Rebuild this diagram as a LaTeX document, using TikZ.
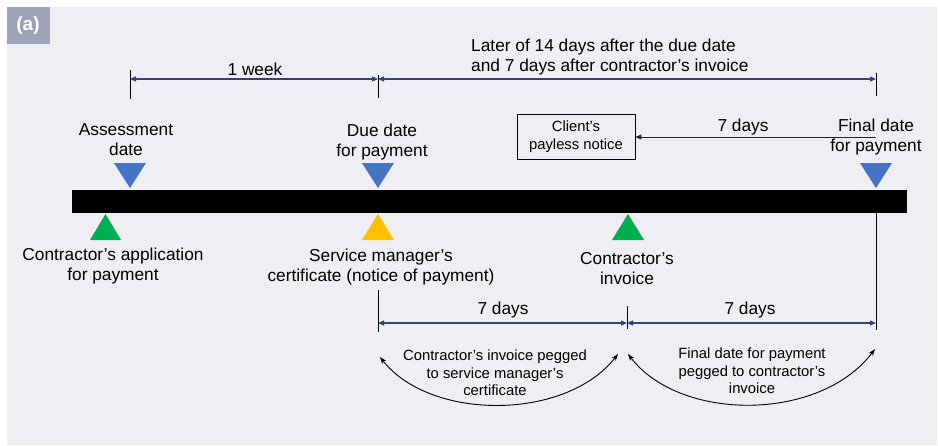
\documentclass[tikz,border=0pt]{standalone}
\usepackage{fontspec}
\setmainfont{Liberation Sans}
\usetikzlibrary{arrows.meta}
\definecolor{panelbg}{HTML}{EEEEF3}
\definecolor{tagbg}{HTML}{9EA3B8}
\definecolor{markblue}{HTML}{4472C4}
\definecolor{markgreen}{HTML}{00B050}
\definecolor{markyellow}{HTML}{FFC000}
\definecolor{dimnavy}{HTML}{2E4677}
\tikzset{
  lbl/.style={align=center, inner sep=0pt, font=\fontsize{17.3}{20}\selectfont},
  smalllbl/.style={align=center, inner sep=0pt, font=\fontsize{14.8}{17.5}\selectfont},
  dimline/.style={draw=dimnavy, line width=1.1pt, {Triangle[length=6pt,width=5pt]}-{Triangle[length=6pt,width=5pt]}},
  tick/.style={draw=black, line width=0.9pt},
  downmark/.style={fill=markblue},
  upmark/.style={fill=#1},
  pegarrow/.style={draw=black, line width=0.9pt, {Stealth[length=7pt,width=5pt]}-{Stealth[length=7pt,width=5pt]}},
}
\begin{document}
\begin{tikzpicture}[x=1pt, y=-1pt]
\useasboundingbox (0,0) rectangle (938,445);
% panel and tag
\fill[panelbg] (7,7) rectangle (937,445);
\fill[tagbg] (7,7) rectangle (50,44);
\node[text=white, font=\fontsize{19}{22}\bfseries\selectfont, inner sep=0pt] (tag) at (28,26) {(a)};

% timeline bar
\fill[black] (72,190) rectangle (907,213);

% markers above the bar
\fill[downmark] (114,163) -- (146,163) -- (130,188) -- cycle;
\fill[downmark] (362,163) -- (394,163) -- (378,188) -- cycle;
\fill[downmark] (860,163) -- (892,163) -- (876,188) -- cycle;
% markers below the bar
\fill[upmark=markgreen] (90,240) -- (121,240) -- (105.5,214) -- cycle;
\fill[upmark=markyellow] (362,240) -- (394,240) -- (378,214) -- cycle;
\fill[upmark=markgreen] (612,240) -- (644,240) -- (628,214) -- cycle;

% event labels
\node[lbl] (assess) at (126,140) {Assessment\\date};
\node[lbl] (due) at (382,142) {Due date\\for payment};
\node[lbl] (final) at (876,137.5) {Final date\\for payment};
\node[lbl] (app) at (113,266) {Contractor’s application\\for payment};
\node[lbl] (cert) at (381,267) {Service manager’s\\certificate (notice of payment)};
\node[lbl] (inv) at (627,268.5) {Contractor’s\\invoice};

% top dimension ticks
\coordinate (t1a) at (130,70);  \coordinate (t1b) at (130,99);
\coordinate (t2a) at (378,75);  \coordinate (t2b) at (378,98);
\coordinate (t3a) at (876,73);  \coordinate (t3b) at (876,96);
\draw[tick] (t1a) -- (t1b);
\draw[tick] (t2a) -- (t2b);
\draw[tick] (t3a) -- (t3b);
\coordinate (d1) at (130,79);
\coordinate (d2) at (378,79);
\coordinate (d3) at (876,79);
\draw[dimline] (d1) -- (d2);
\draw[dimline] (d2) -- (d3);
\node[lbl] (week) at (255,69.5) {1 week};
\node[lbl, align=left, anchor=west] (later) at (471,57.5) {Later of 14 days after the due date\\and 7 days after contractor’s invoice};

% payless notice
\node[draw=black, line width=0.9pt, minimum width=118pt, minimum height=45pt, smalllbl, font=\fontsize{14.8}{18.5}\selectfont] (payless) at (576,136.5) {Client’s\\payless notice};
\coordinate (pstart) at (876,137);
\draw[draw=black!85, line width=1pt, -{Triangle[length=6pt,width=5pt]}] (pstart) -- (payless.east |- pstart);
\node[lbl] (sevenA) at (743,127) {7 days};

% bottom dimension ticks
\coordinate (b1a) at (378,290); \coordinate (b1b) at (378,332);
\coordinate (b2a) at (627,306); \coordinate (b2b) at (627,329);
\coordinate (b3a) at (876,213); \coordinate (b3b) at (876,330);
\draw[tick] (b1a) -- (b1b);
\draw[tick] (b2a) -- (b2b);
\draw[tick] (b3a) -- (b3b);
\coordinate (e1) at (378,323);
\coordinate (e2) at (627,323);
\coordinate (e3) at (876,323);
\draw[dimline] (e1) -- (e2);
\draw[dimline] (e2) -- (e3);
\node[lbl] (sevenB) at (503,310) {7 days};
\node[lbl] (sevenC) at (750,310) {7 days};

% pegging arcs
\coordinate (p1) at (380,357);
\coordinate (p2) at (618,354);
\coordinate (p3) at (628,354);
\coordinate (p4) at (875,349);
\draw[pegarrow] (p1) .. controls (430,421) and (566,421) .. (p2);
\draw[pegarrow] (p3) .. controls (680,422) and (820,422) .. (p4);
\node[smalllbl] (pegA) at (495,373) {Contractor’s invoice pegged\\to service manager’s\\certificate};
\node[smalllbl] (pegB) at (752,371) {Final date for payment\\pegged to contractor’s\\invoice};
\end{tikzpicture}
\end{document}
